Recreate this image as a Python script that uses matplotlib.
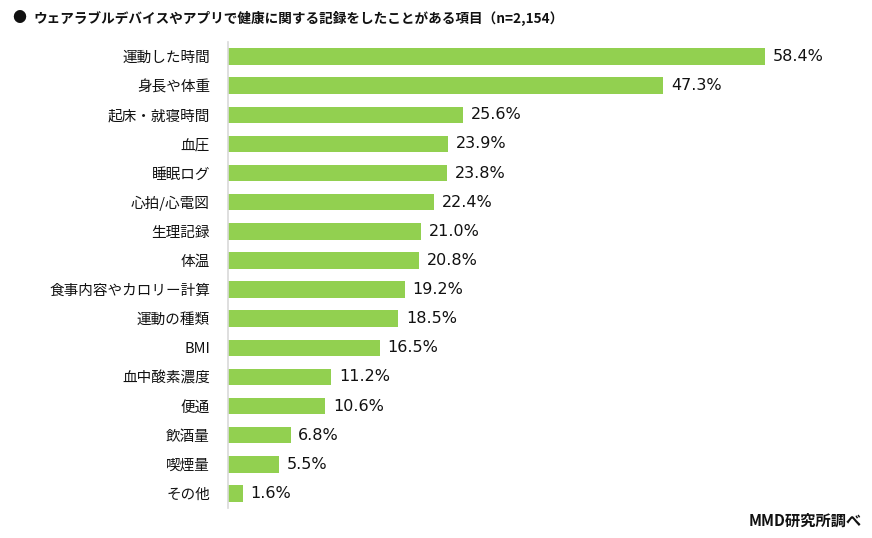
import matplotlib.pyplot as plt

plt.rcParams['font.family'] = ['Noto Sans CJK JP', 'DejaVu Sans']

items = ["運動した時間", "身長や体重", "起床・就寝時間", "血圧", "睡眠ログ", "心拍/心電図",
         "生理記録", "体温", "食事内容やカロリー計算", "運動の種類", "BMI", "血中酸素濃度",
         "便通", "飲酒量", "喫煙量", "その他"]
values = [58.4, 47.3, 25.6, 23.9, 23.8, 22.4, 21.0, 20.8, 19.2, 18.5, 16.5, 11.2,
          10.6, 6.8, 5.5, 1.6]

fig = plt.figure(figsize=(8.72, 5.38), dpi=100)
ax = fig.add_axes([228 / 872, 30 / 538, 643.7 / 872, 466 / 538])

pos = list(range(len(items)))
ax.barh(pos, values, height=0.57, color='#92D050')
for p, v in zip(pos, values):
    ax.text(v + 0.85, p, f"{v:.1f}%", va='center', ha='left', fontsize=11.5,
            family='DejaVu Sans', color='#111111')

ax.set_xlim(0, 70)
ax.set_ylim(len(items) - 0.5, -0.5)
ax.set_yticks(pos)
ax.set_yticklabels(items, fontsize=10.5, color='#111111')
ax.tick_params(axis='y', length=0, pad=13)
ax.set_xticks([])
for s in ['top', 'right', 'bottom']:
    ax.spines[s].set_visible(False)
ax.spines['left'].set_color('#d9d9d9')
ax.spines['left'].set_linewidth(1.2)

fig.text(12 / 872, 1 - 18 / 538, "●", fontsize=10, va='center', ha='left', color='#111111')
fig.text(33 / 872, 1 - 18 / 538, "ウェアラブルデバイスやアプリで健康に関する記録をしたことがある項目（n=2,154）",
         fontsize=9.8, fontweight='bold', va='center', ha='left', color='#111111')
fig.text(862 / 872, 1 - 521 / 538, "MMD研究所調べ", fontsize=11, fontweight='bold',
         va='center', ha='right', color='#111111')

fig.savefig("out.png", dpi=100)
